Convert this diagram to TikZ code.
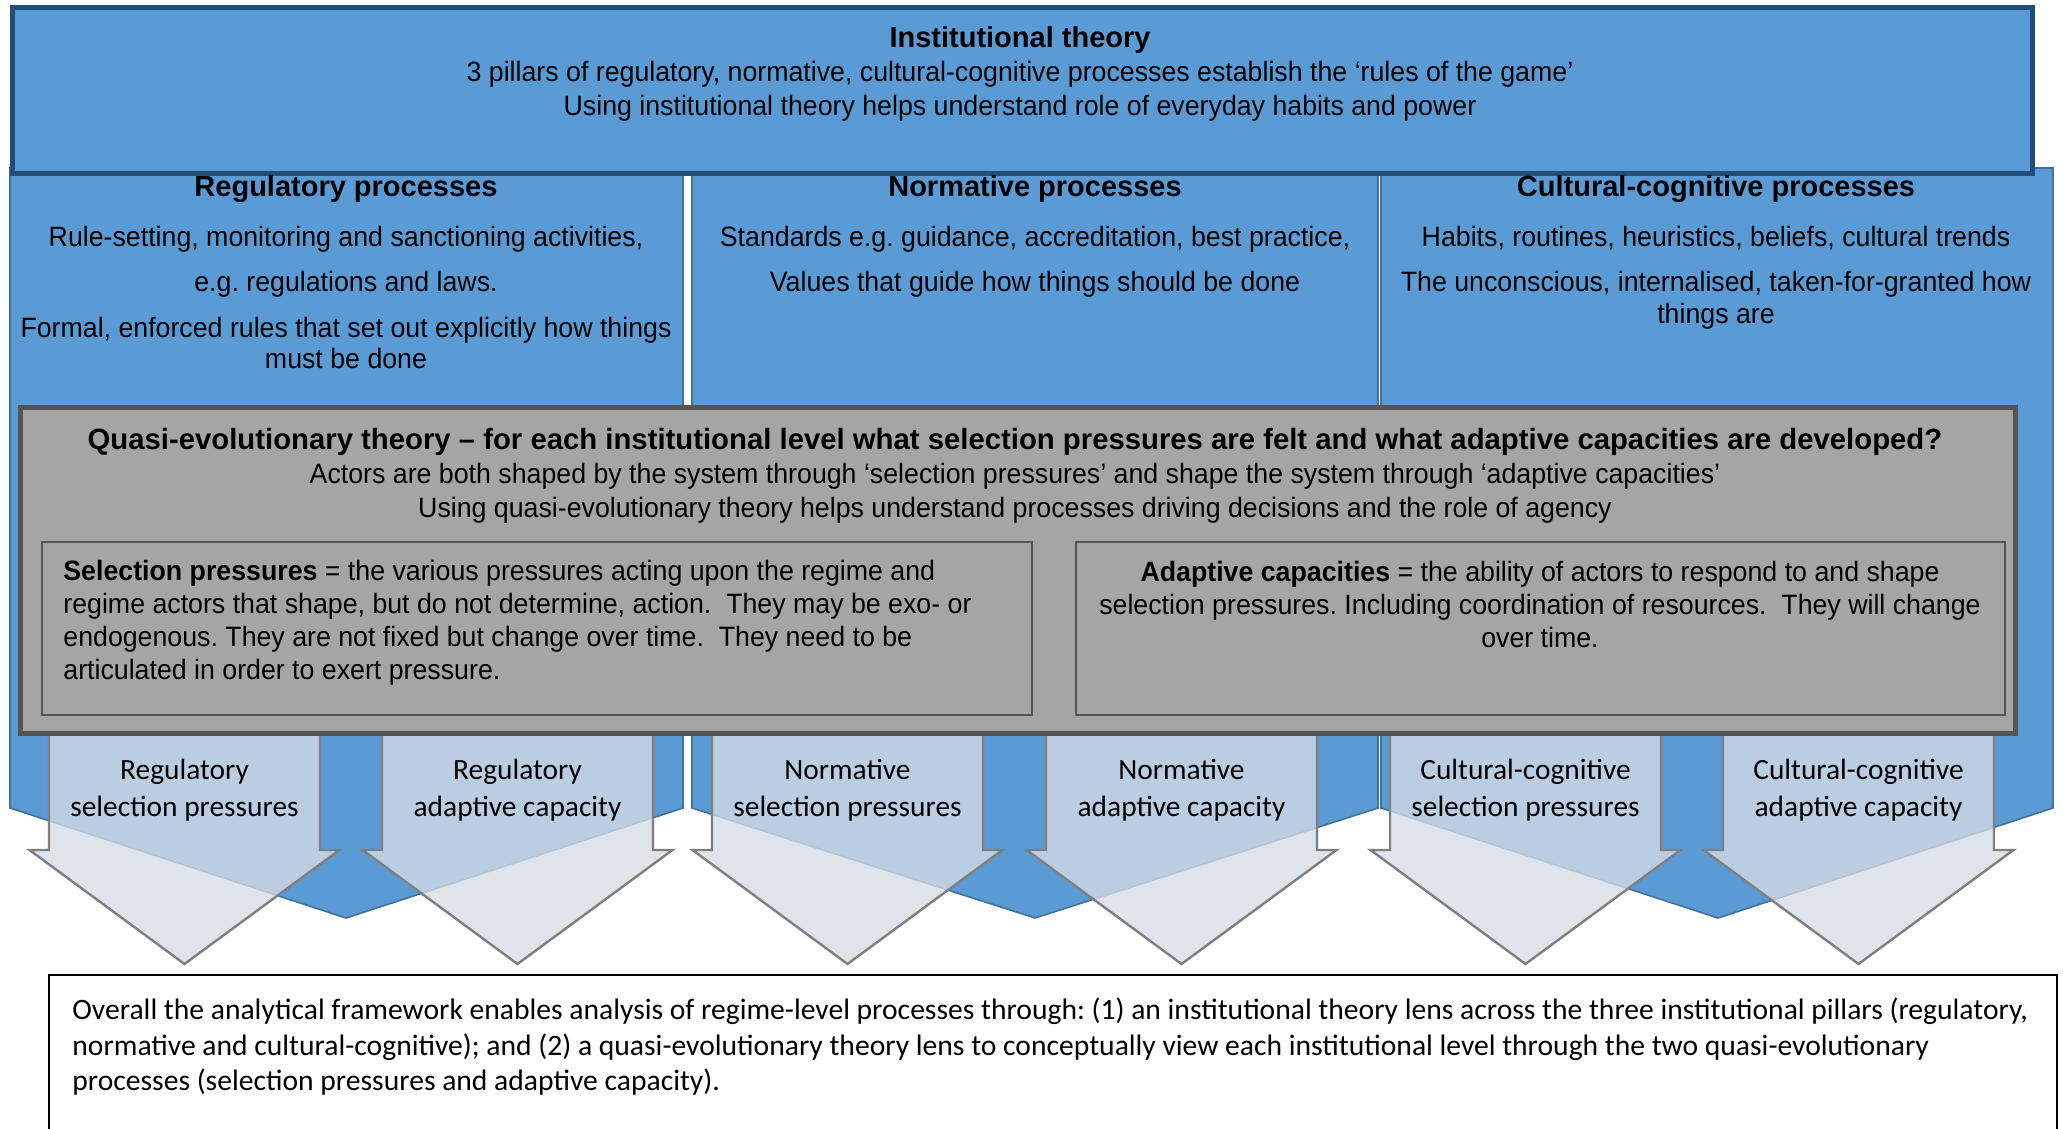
\documentclass[tikz,border=0pt]{standalone}
\usepackage{fontspec}
\setmainfont{Liberation Sans}
\newfontfamily\bodyfont[FakeStretch=0.955]{Liberation Sans}
\newfontfamily\calibrifont{Carlito}
\usetikzlibrary{positioning}
\frenchspacing

\definecolor{pillarblue}{HTML}{5B9BD5}
\definecolor{edgeblue}{HTML}{41719C}
\definecolor{darkblue}{HTML}{1F4E79}
\definecolor{quasigray}{HTML}{A5A5A5}
\definecolor{quasiedge}{HTML}{555555}
\definecolor{arrowfill}{HTML}{D6DCE5}
\definecolor{arrowedge}{HTML}{7F7F7F}

\tikzset{
  pillar/.style={fill=pillarblue,draw=edgeblue,line width=0.8pt},
  institutionbox/.style={fill=pillarblue,draw=darkblue,line width=2.5pt,inner sep=0pt},
  quasibox/.style={fill=quasigray,draw=quasiedge,line width=2.6pt,inner sep=0pt},
  innerbox/.style={draw=quasiedge,line width=1pt,inner sep=0pt},
  downarrow/.style={fill=arrowfill,fill opacity=0.78,draw=arrowedge,line width=1.2pt},
  headtext/.style={font=\fontsize{14.5}{17}\selectfont\bfseries,align=center,inner sep=0pt},
  pillartext/.style={font=\bodyfont\fontsize{14}{15.8}\selectfont,align=center,inner sep=0pt},
  toptext/.style={font=\bodyfont\fontsize{14}{17}\selectfont,align=center,inner sep=0pt},
  innertext/.style={font=\bodyfont\fontsize{14}{16.5}\selectfont,inner sep=0pt},
  arrowtext/.style={font=\calibrifont\fontsize{14.7}{18.5}\selectfont,align=center,inner sep=0pt},
  summarytext/.style={font=\calibrifont\fontsize{14.8}{17.8}\selectfont,align=left,inner sep=0pt},
}

\begin{document}
\begin{tikzpicture}[x=0.5pt,y=-0.5pt]
\useasboundingbox (0,0) rectangle (2063,1129);

% the three pillars
\draw[pillar] (10,168) -- (683,168) -- (683,808) -- (346,918) -- (10,808) -- cycle;
\draw[pillar] (692,168) -- (1378,168) -- (1378,808) -- (1035,918) -- (692,808) -- cycle;
\draw[pillar] (1381,168) -- (2053,168) -- (2053,808) -- (1718,918) -- (1381,808) -- cycle;

% institutional theory
\node[institutionbox,minimum width=1010pt,minimum height=83pt,anchor=north west] (inst) at (10,5) {};
\node[toptext] (insttext) at (1020,74) {{\normalfont\bfseries\fontsize{14.5}{17}\selectfont Institutional theory}\\
  3 pillars of regulatory, normative, cultural-cognitive processes establish the ‘rules of the game’\\
  Using institutional theory helps understand role of everyday habits and power};

\node[headtext] (reghead) at (346,189.5) {Regulatory processes};
\node[pillartext,below=11pt of reghead] (regtext) {Rule-setting, monitoring and sanctioning activities,\\[7pt]
  e.g. regulations and laws.\\[7pt]
  Formal, enforced rules that set out explicitly how things\\ must be done};
\node[headtext] (normhead) at (1035,189.5) {Normative processes};
\node[pillartext,below=11pt of normhead] (normtext) {Standards e.g. guidance, accreditation, best practice,\\[7pt]
  Values that guide how things should be done};
\node[headtext] (culthead) at (1716,189.5) {Cultural-cognitive processes};
\node[pillartext,below=11pt of culthead] (culttext) {Habits, routines, heuristics, beliefs, cultural trends\\[7pt]
  The unconscious, internalised, taken-for-granted how\\ things are};

% selection pressures and adaptive capacities
\draw[downarrow] (49,731) -- ++(271,0) -- ++(0,119) -- ++(19.5,0) -- ++(-155,114) -- ++(-155,-114) -- ++(19.5,0) -- cycle;
\draw[downarrow] (382,731) -- ++(271,0) -- ++(0,119) -- ++(19.5,0) -- ++(-155,114) -- ++(-155,-114) -- ++(19.5,0) -- cycle;
\draw[downarrow] (712,731) -- ++(271,0) -- ++(0,119) -- ++(19.5,0) -- ++(-155,114) -- ++(-155,-114) -- ++(19.5,0) -- cycle;
\draw[downarrow] (1046,731) -- ++(271,0) -- ++(0,119) -- ++(19.5,0) -- ++(-155,114) -- ++(-155,-114) -- ++(19.5,0) -- cycle;
\draw[downarrow] (1390,731) -- ++(271,0) -- ++(0,119) -- ++(19.5,0) -- ++(-155,114) -- ++(-155,-114) -- ++(19.5,0) -- cycle;
\draw[downarrow] (1723,731) -- ++(271,0) -- ++(0,119) -- ++(19.5,0) -- ++(-155,114) -- ++(-155,-114) -- ++(19.5,0) -- cycle;

\node[arrowtext] (regsel) at (184.5,790) {Regulatory\\ selection pressures};
\node[arrowtext] (regadapt) at (517.5,790) {Regulatory\\ adaptive capacity};
\node[arrowtext] (normsel) at (847.5,790) {Normative\\ selection pressures};
\node[arrowtext] (normadapt) at (1181.5,790) {Normative\\ adaptive capacity};
\node[arrowtext] (cultsel) at (1525.5,790) {Cultural-cognitive\\ selection pressures};
\node[arrowtext] (cultadapt) at (1858.5,790) {Cultural-cognitive\\ adaptive capacity};

% quasi-evolutionary theory
\node[quasibox,minimum width=997.5pt,minimum height=163pt,anchor=north west] (quasi) at (18,405) {};
\node[toptext] (quasitext) at (1015,475.5) {{\normalfont\bfseries\fontsize{14.65}{17}\selectfont Quasi-evolutionary theory – for each institutional level what selection pressures are felt and what adaptive capacities are developed?}\\
  Actors are both shaped by the system through ‘selection pressures’ and shape the system through ‘adaptive capacities’\\
  Using quasi-evolutionary theory helps understand processes driving decisions and the role of agency};

\node[innerbox,minimum width=495pt,minimum height=86.5pt,anchor=north west] (selbox) at (41,541) {};
\node[innertext,align=left,anchor=west] (seltext) at (63,623) {\textbf{Selection pressures} = the various pressures acting upon the regime and\\
  regime actors that shape, but do not determine, action.\ \ They may be exo- or\\
  endogenous. They are not fixed but change over time.\ \ They need to be\\
  articulated in order to exert pressure.};
\node[innerbox,minimum width=464.5pt,minimum height=86.5pt,anchor=north west] (adaptbox) at (1075,541) {};
\node[innertext,align=center] (adapttext) at (1540,604) {\textbf{Adaptive capacities} = the ability of actors to respond to and shape\\
  selection pressures. Including coordination of resources.\ \ They will change\\
  over time.};

% overall summary
\draw[black,line width=1pt,fill=white] (49,975) rectangle (2057,1140);
\node[summarytext,anchor=west] (summary) at (72,1046.6) {Overall the analytical framework enables analysis of regime-level processes through: (1) an institutional theory lens across the three institutional pillars (regulatory,\\
  normative and cultural-cognitive); and (2) a quasi-evolutionary theory lens to conceptually view each institutional level through the two quasi-evolutionary\\
  processes (selection pressures and adaptive capacity).};
\end{tikzpicture}
\end{document}
